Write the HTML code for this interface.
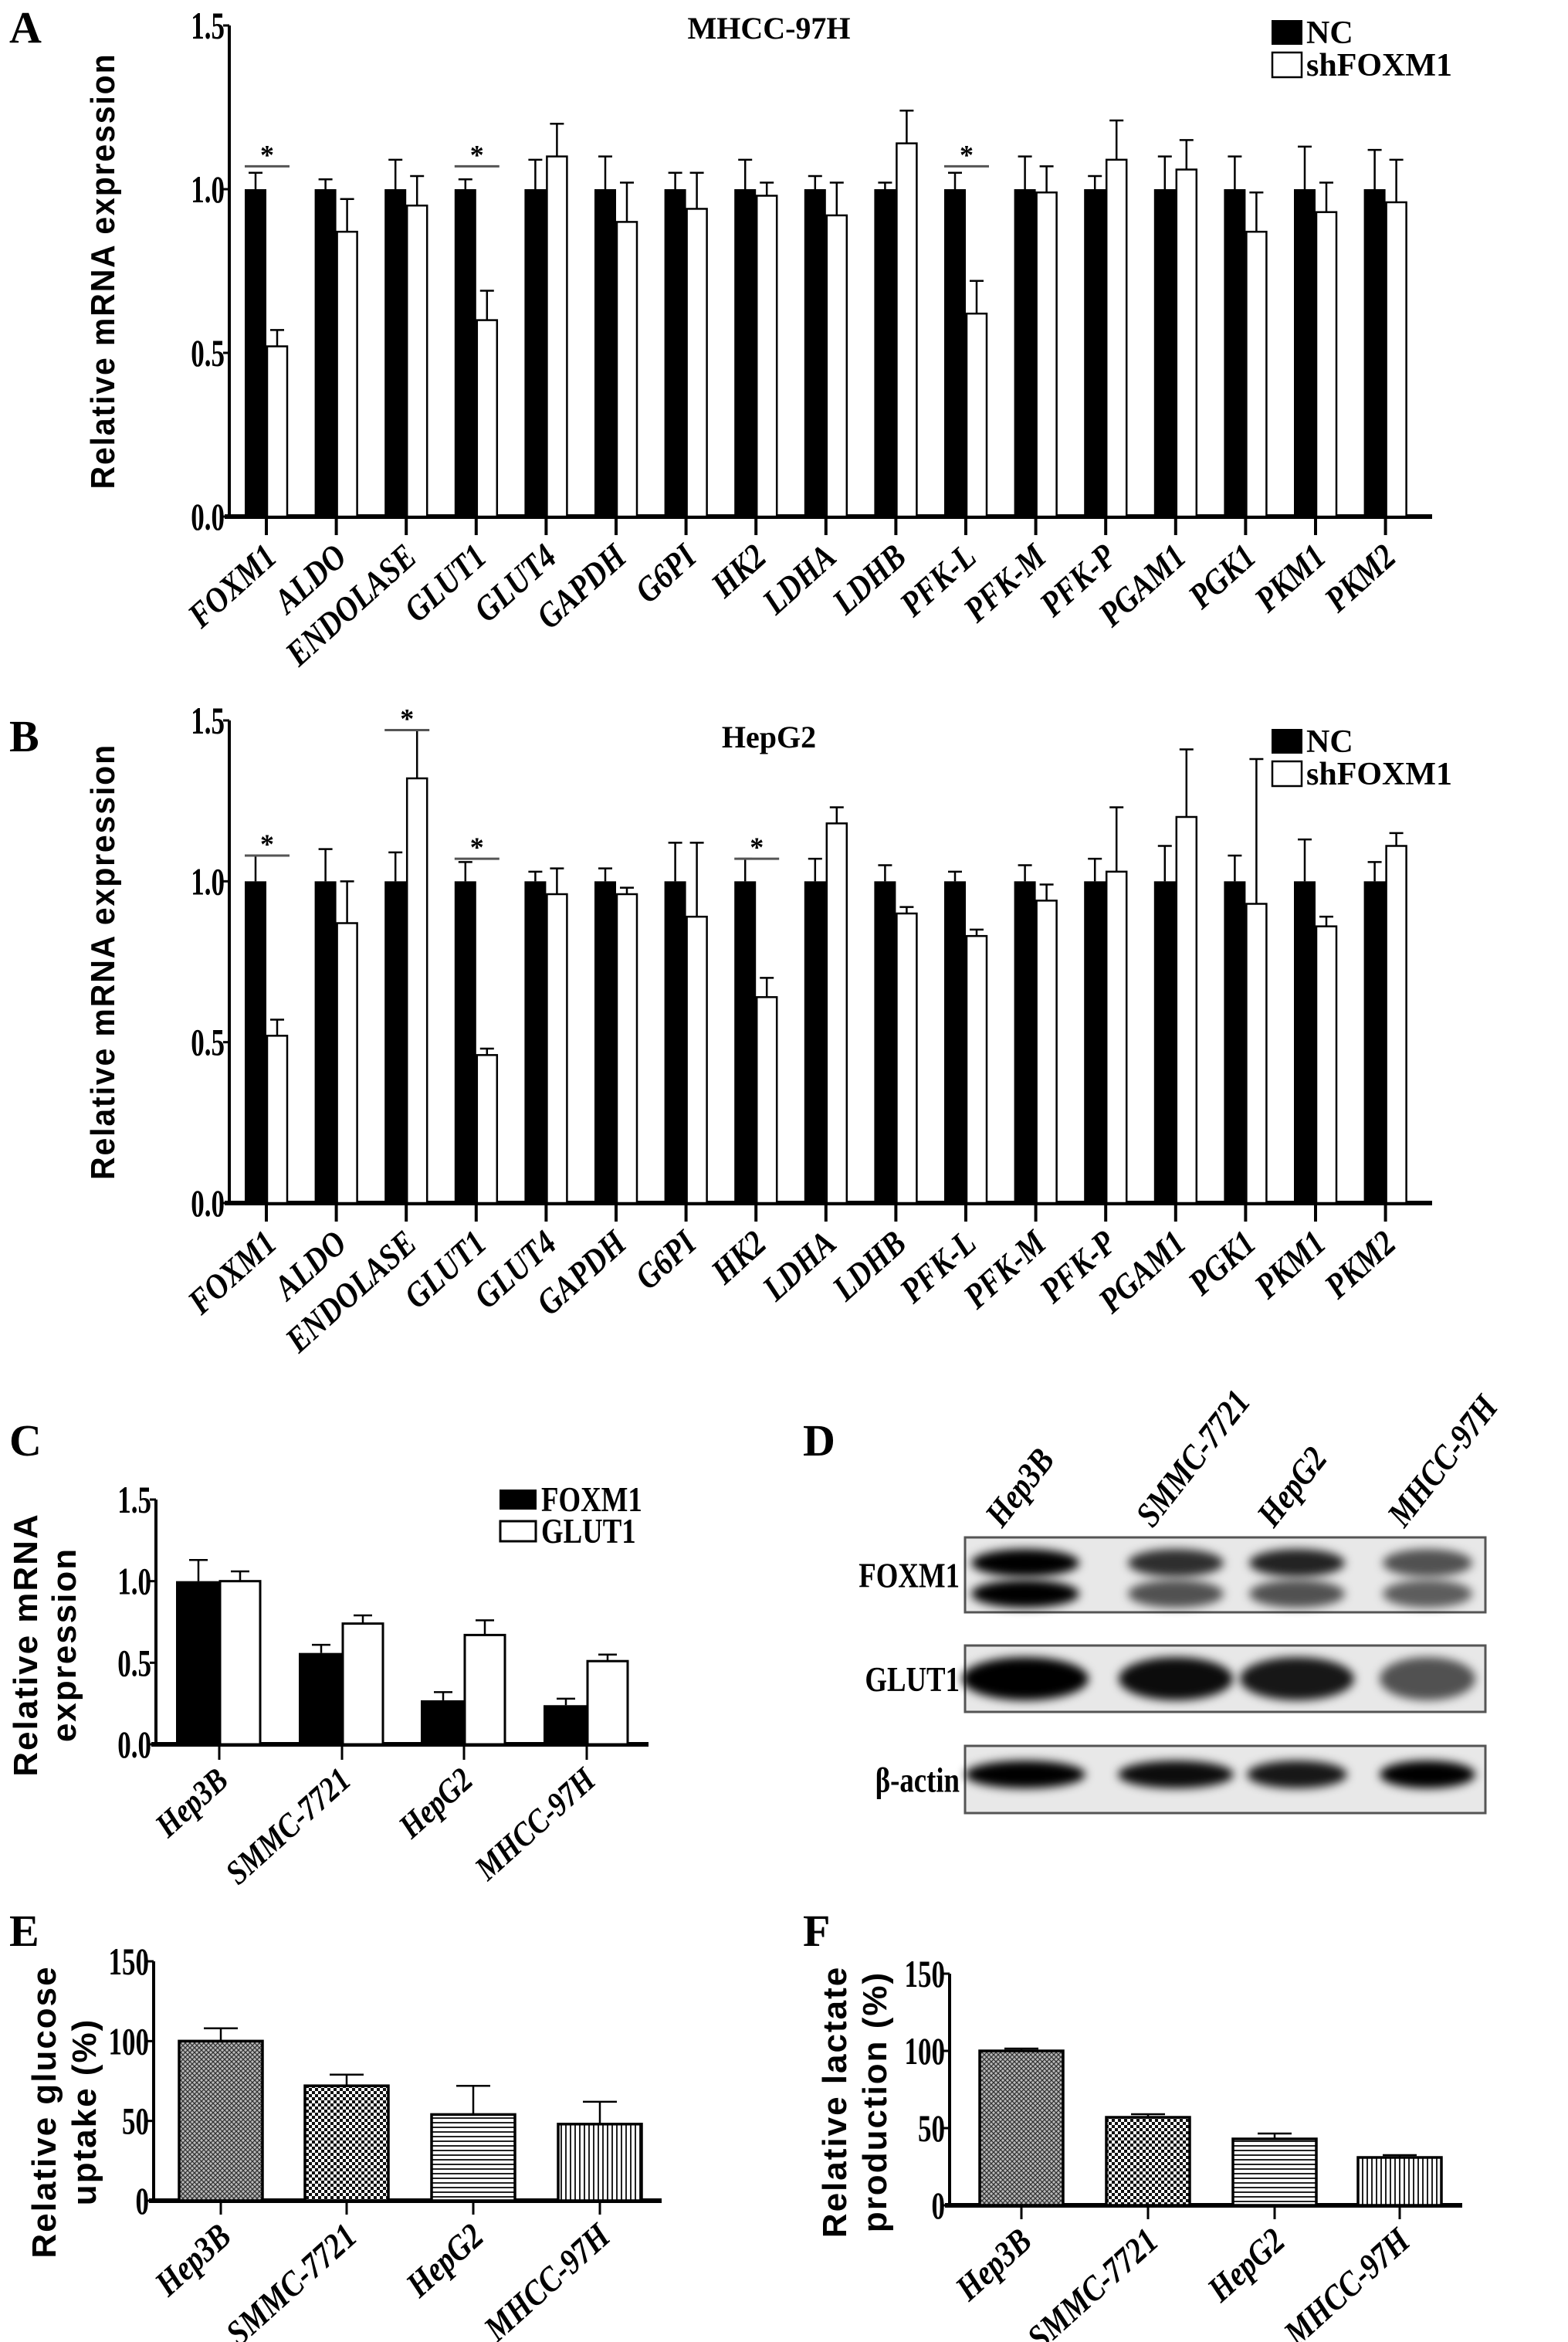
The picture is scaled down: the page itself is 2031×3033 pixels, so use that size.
<!DOCTYPE html>
<html><head><meta charset="utf-8"><style>
html,body{margin:0;padding:0;background:#fff}
svg{display:block}
</style></head><body>
<svg id="fig" width="2031" height="3033" viewBox="0 0 2031 3033" xmlns="http://www.w3.org/2000/svg" font-family="Liberation Serif, serif" font-weight="bold">
<defs>
<pattern id="pHatch" width="6" height="6" patternUnits="userSpaceOnUse"><rect width="6" height="6" fill="#bbb"/><path d="M0 0L6 6M6 0L0 6" stroke="#333" stroke-width="1.3"/></pattern>
<pattern id="pCheck" width="8" height="8" patternUnits="userSpaceOnUse"><rect width="8" height="8" fill="#fff"/><rect width="4" height="4" fill="#111"/><rect x="4" y="4" width="4" height="4" fill="#111"/></pattern>
<pattern id="pHor" width="6" height="6" patternUnits="userSpaceOnUse"><rect width="6" height="6" fill="#fff"/><rect y="0" width="6" height="2" fill="#222"/></pattern>
<pattern id="pVer" width="6" height="6" patternUnits="userSpaceOnUse"><rect width="6" height="6" fill="#fff"/><rect x="0" width="2" height="6" fill="#222"/></pattern>
<filter id="blur" x="-30%" y="-100%" width="160%" height="300%"><feGaussianBlur stdDeviation="6"/></filter>
</defs>
</svg>
<script>
const genes = ["FOXM1","ALDO","ENDOLASE","GLUT1","GLUT4","GAPDH","G6PI","HK2","LDHA","LDHB","PFK-L","PFK-M","PFK-P","PGAM1","PGK1","PKM1","PKM2"];
const aNC = [1,1,1,1,1,1,1,1,1,1,1,1,1,1,1,1,1];
const aNCerr = [0.05,0.03,0.09,0.03,0.09,0.1,0.05,0.09,0.04,0.02,0.05,0.1,0.04,0.1,0.1,0.13,0.12];
const aSh = [0.52,0.87,0.95,0.6,1.1,0.9,0.94,0.98,0.92,1.14,0.62,0.99,1.09,1.06,0.87,0.93,0.96];
const aShErr = [0.05,0.1,0.09,0.09,0.1,0.12,0.11,0.04,0.1,0.1,0.1,0.08,0.12,0.09,0.12,0.09,0.13];
const aStars = [0,3,10];
const bNC = [1,1,1,1,1,1,1,1,1,1,1,1,1,1,1,1,1];
const bNCerr = [0.08,0.1,0.09,0.06,0.03,0.04,0.12,0.07,0.07,0.05,0.03,0.05,0.07,0.11,0.08,0.13,0.06];
const bSh = [0.52,0.87,1.32,0.46,0.96,0.96,0.89,0.64,1.18,0.9,0.83,0.94,1.03,1.2,0.93,0.86,1.11];
const bShErr = [0.05,0.13,0.15,0.02,0.08,0.02,0.23,0.06,0.05,0.02,0.02,0.05,0.2,0.21,0.45,0.03,0.04];
const bStars = [0,2,3,7];
const cells = ["Hep3B","SMMC-7721","HepG2","MHCC-97H"];
const cFox = [1.0,0.56,0.27,0.24];
const cFoxErr = [0.13,0.05,0.05,0.04];
const cGlut = [1.0,0.74,0.67,0.51];
const cGlutErr = [0.06,0.05,0.09,0.04];
const eVal = [100,72,54,48];
const eErr = [8,7,18,14];
const fVal = [100,57,43,31];
const fErr = [1.5,2,3.5,1.5];
const ticks15 = ["0.0","0.5","1.0","1.5"];
const ticks150 = ["0","50","100","150"];

const svg = document.getElementById('fig');
const NS = "http://www.w3.org/2000/svg";
const SANS = 'font-family:"Liberation Sans",sans-serif;font-weight:bold;letter-spacing:2px';
function mk(tag, attrs, parent){const e=document.createElementNS(NS,tag);for(const k in attrs)e.setAttribute(k,attrs[k]);(parent||svg).appendChild(e);return e;}
function txt(s, attrs, parent){const e=mk('text',attrs,parent);e.textContent=s;return e;}

function axes(g, x0, x1, yTop, yBot, vmax, labels, tickVals){
  const y = v => yBot - v/vmax*(yBot-yTop);
  const ax = mk('line',{x1:x0,y1:yTop,x2:x0,y2:yBot,stroke:'#000','stroke-width':4},g);
  
  
  const bx = mk('line',{x1:x0-6,y1:yBot,x2:x1,y2:yBot,stroke:'#000','stroke-width':6},g);
  
  
  tickVals.forEach((v,i)=>{
    mk('line',{x1:x0-8,y1:y(v),x2:x0,y2:y(v),stroke:'#000','stroke-width':3},g);
    const t = txt(labels[i],{x:0,y:0,'text-anchor':'end','font-size':50,transform:`translate(${x0-6} ${y(v)+17}) scale(0.7 1)`},g);
    
    
  });
  return y;
}
function errbar(g,cx,ytop,yerr,hw){
  mk('line',{x1:cx,y1:ytop,x2:cx,y2:yerr,stroke:'#000','stroke-width':2.5},g);
  mk('line',{x1:cx-hw,y1:yerr,x2:cx+hw,y2:yerr,stroke:'#000','stroke-width':2.5},g);
}
function catLabel(g,s,x,y,fs){
  const t = txt(s,{x:0,y:0,'text-anchor':'end','font-size':fs,'font-style':'italic',transform:`translate(${x} ${y}) rotate(-42) scale(0.85 1)`},g);
  
  
}

function geneChart(name, yTop, yBot, nc, ncErr, sh, shErr, stars, title, titleY){
  const g = mk('g',{});
  
  
  const y = axes(g,297,1855,yTop,yBot,1.5,ticks15,[0,0.5,1,1.5]);
  const step = 90.6, t0 = 345, bw = 28;
  genes.forEach((gn,i)=>{
    const tx = t0 + i*step;
    errbar(g,tx-bw/2,y(nc[i]),y(nc[i]+ncErr[i]),9);
    errbar(g,tx+bw/2,y(sh[i]),y(sh[i]+shErr[i]),9);
    const b1 = mk('rect',{x:tx-bw,y:y(nc[i]),width:bw,height:yBot-y(nc[i]),fill:'#000'},g);
    
    
    const b2 = mk('rect',{x:tx+1,y:y(sh[i]),width:bw-2,height:yBot-y(sh[i]),fill:'#fff',stroke:'#000','stroke-width':2.5},g);
    
    
    mk('line',{x1:tx,y1:yBot,x2:tx,y2:yBot+24,stroke:'#000','stroke-width':4},g);
    catLabel(g,gn,tx+16,yBot+56,46);
  });
  stars.forEach(i=>{
    const tx = t0+i*step;
    const top = Math.max(nc[i]+ncErr[i], sh[i]+shErr[i]);
    const ly = y(Math.max(top,1.07));
    mk('line',{x1:tx-28,y1:ly,x2:tx+30,y2:ly,stroke:'#555','stroke-width':3},g);
    const s = txt('*',{x:tx+1,y:ly-3,'text-anchor':'middle','font-size':36},g);
    
    
  });
  const tt = txt(title,{x:996,y:titleY,'text-anchor':'middle','font-size':40},g);
  
  
  const ytl = txt('Relative mRNA expression',{x:0,y:0,'text-anchor':'middle','font-size':44,style:SANS,textLength:565,lengthAdjust:'spacingAndGlyphs',transform:`translate(148 ${(yTop+yBot)/2}) rotate(-90)`},g);
  
  
  const ly = titleY-24;
  const l1 = mk('rect',{x:1647,y:ly,width:40,height:32,fill:'#000'},g);
  
  
  const l2 = mk('rect',{x:1648,y:ly+42,width:38,height:32,fill:'#fff',stroke:'#000','stroke-width':2.5},g);
  
  
  const lt1 = txt('NC',{x:1692,y:ly+30,'font-size':42},g);
  
  
  const lt2 = txt('shFOXM1',{x:1692,y:ly+72,'font-size':42},g);
  
  
}
function panelLetter(s,x,y){
  const t = txt(s,{x:x,y:y,'font-size':58});
  
  
}

panelLetter('A',12,55);
geneChart('chart-a-mhcc97h',33,669,aNC,aNCerr,aSh,aShErr,aStars,'MHCC-97H',50);
panelLetter('B',12,973);
geneChart('chart-b-hepg2',933,1558,bNC,bNCerr,bSh,bShErr,bStars,'HepG2',968);

panelLetter('C',12,1885);
(function(){
  const g = mk('g',{});
  
  
  const yTop=1942,yBot=2259;
  const y = axes(g,202,840,yTop,yBot,1.5,ticks15,[0,0.5,1,1.5]);
  const ticks=[284,443,601,760];
  cells.forEach((c,i)=>{
    const tx=ticks[i];
    errbar(g,tx-27,y(cFox[i]),y(cFox[i]+cFoxErr[i]),12);
    errbar(g,tx+27,y(cGlut[i]),y(cGlut[i]+cGlutErr[i]),12);
    const b1=mk('rect',{x:tx-56,y:y(cFox[i]),width:56,height:yBot-y(cFox[i]),fill:'#000'},g);
    
    
    const b2=mk('rect',{x:tx+1,y:y(cGlut[i]),width:52,height:yBot-y(cGlut[i]),fill:'#fff',stroke:'#000','stroke-width':3},g);
    
    
    mk('line',{x1:tx,y1:yBot,x2:tx,y2:yBot+20,stroke:'#000','stroke-width':3},g);
    catLabel(g,c,tx+14,yBot+50,44);
  });
  const t1=txt('Relative mRNA',{x:0,y:0,'text-anchor':'middle','font-size':44,style:SANS,transform:'translate(48 2130) rotate(-90)'},g);
  
  
  const t2=txt('expression',{x:0,y:0,'text-anchor':'middle','font-size':44,style:SANS,transform:'translate(98 2130) rotate(-90)'},g);
  
  
  const l1=mk('rect',{x:647,y:1929,width:48,height:26,fill:'#000'},g);
  
  
  const l2=mk('rect',{x:648,y:1970,width:46,height:26,fill:'#fff',stroke:'#000','stroke-width':3},g);
  
  
  const lt1=txt('FOXM1',{x:0,y:0,'font-size':46,transform:'translate(701 1957) scale(0.8 1)'},g);
  
  
  const lt2=txt('GLUT1',{x:0,y:0,'font-size':46,transform:'translate(701 1998) scale(0.8 1)'},g);
  
  
})();

panelLetter('D',1040,1885);
(function(){
  const g=mk('g',{});
  
  
  const lanes=[1328,1523,1680,1849];
  cells.forEach((c,i)=>{
    const t=txt(c,{x:0,y:0,'font-size':46,'font-style':'italic',transform:`translate(${lanes[i]-30} 1980) rotate(-52) scale(0.85 1)`},g);
    
    
  });
  const rows=[
    {n:'FOXM1',y:1991,h:97,bands:[[2024,[1,.8,.85,.65]],[2064,[1,.65,.65,.6]]],bw:[70,62,62,58],bh:18},
    {n:'GLUT1',y:2131,h:86,bands:[[2174,[1,.95,.9,.65]]],bw:[82,74,74,62],bh:28},
    {n:'β-actin',y:2261,h:87,bands:[[2298,[1,.95,.9,1]]],bw:[78,75,65,62],bh:18}
  ];
  rows.forEach(r=>{
    const box=mk('rect',{x:1250,y:r.y,width:674,height:r.h,fill:'#e8e8e8',stroke:'#555','stroke-width':3},g);
    
    
    r.bands.forEach(b=>{
      lanes.forEach((lx,i)=>{
        const e=mk('ellipse',{cx:lx,cy:b[0],rx:r.bw[i],ry:r.bh,fill:'#000','fill-opacity':b[1][i],filter:'url(#blur)'},g);
        
        
      });
    });
    const lt=txt(r.n,{x:0,y:0,'text-anchor':'end','font-size':46,transform:`translate(1243 ${r.y+r.h/2+16}) scale(0.8 1)`},g);
    
    
  });
})();

const fills=['url(#pHatch)','url(#pCheck)','url(#pHor)','url(#pVer)'];
function pctChart(name,x0,x1,yTop,yBot,barX,vals,errs,t1,t2,tx1,tx2,ty){
  const g=mk('g',{});
  
  
  const y=axes(g,x0,x1,yTop,yBot,150,ticks150,[0,50,100,150]);
  cells.forEach((c,i)=>{
    const cx=barX[i];
    errbar(g,cx,y(vals[i]),y(vals[i]+errs[i]),22);
    const b=mk('rect',{x:cx-54,y:y(vals[i]),width:108,height:yBot-y(vals[i]),fill:fills[i],stroke:'#000','stroke-width':3.5},g);
    
    
    mk('line',{x1:cx,y1:yBot,x2:cx,y2:yBot+18,stroke:'#000','stroke-width':3},g);
    catLabel(g,c,cx+16,yBot+50,46);
  });
  const a=txt(t1,{x:0,y:0,'text-anchor':'middle','font-size':44,style:SANS,transform:`translate(${tx1} ${ty}) rotate(-90)`},g);
  
  
  const b=txt(t2,{x:0,y:0,'text-anchor':'middle','font-size':44,style:SANS,transform:`translate(${tx2} ${ty}) rotate(-90)`},g);
  
  
}
panelLetter('E',12,2520);
pctChart('chart-e-glucose',199,857,2540,2850,[286,449,613,777],eVal,eErr,'Relative glucose','uptake (%)',72,124,2735);
panelLetter('F',1040,2520);
pctChart('chart-f-lactate',1230,1894,2556,2856,[1323,1487,1651,1813],fVal,fErr,'Relative lactate','production (%)',1096,1148,2722);
</script>
</body></html>
